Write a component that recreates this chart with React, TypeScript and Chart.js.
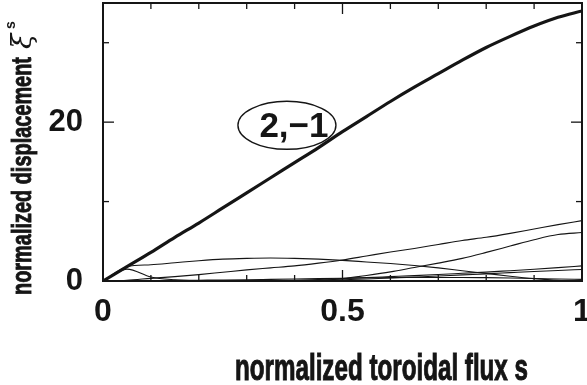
import React, { useEffect, useRef } from "react";
import { Chart, registerables } from "chart.js";

Chart.register(...registerables);

// normalized toroidal flux s (sample grid)
const S = [0, 0.05, 0.1, 0.15, 0.2, 0.25, 0.3, 0.35, 0.4, 0.45, 0.5, 0.55, 0.6, 0.65, 0.7, 0.75, 0.8, 0.85, 0.9, 0.95, 1.0];

// dominant (2,-1) harmonic (thick curve)
const XI_2_M1 = [0, 1.8, 3.6, 5.5, 7.3, 9.2, 11.1, 13.0, 14.9, 16.8, 18.8, 20.7, 22.6, 24.4, 26.1, 27.8, 29.4, 30.8, 32.1, 33.2, 34.0];

// weaker harmonics (thin curves)
const XI_A = [0, 1.8, 2.05, 2.3, 2.55, 2.75, 2.85, 2.9, 2.85, 2.75, 2.6, 2.4, 2.2, 1.95, 1.65, 1.3, 0.95, 0.6, 0.3, 0.08, 0];
const XI_B = [0, 0.1, 0.33, 0.55, 0.8, 1.1, 1.4, 1.65, 1.9, 2.25, 2.65, 3.15, 3.65, 4.1, 4.6, 5.1, 5.5, 6.0, 6.55, 7.1, 7.6];
const XI_C = [0, 0, 0, 0, 0, 0, 0, 0, 0, 0.05, 0.3, 0.7, 1.15, 1.7, 2.25, 2.85, 3.6, 4.4, 5.2, 5.85, 6.1];
const XI_D = [0, 0, 0, 0, 0, 0, 0, 0.02, 0.08, 0.18, 0.3, 0.42, 0.55, 0.68, 0.82, 0.97, 1.12, 1.3, 1.48, 1.68, 1.9];
const XI_E = [0, 0, 0, 0, 0, 0, 0, 0, 0.02, 0.08, 0.15, 0.25, 0.37, 0.5, 0.63, 0.77, 0.9, 1.05, 1.2, 1.33, 1.45];
const XI_F = [0, 0.02, 0.05, 0.08, 0.1, 0.12, 0.15, 0.2, 0.25, 0.3, 0.35, 0.4, 0.42, 0.45, 0.45, 0.45, 0.42, 0.38, 0.32, 0.25, 0.2];
const XI_G = [0, 1.5, 0.5, 0.15, 0.03, 0, 0, 0, 0, 0, 0, 0, 0, 0, 0, 0, 0, 0, 0, 0, 0];

const THIN_SERIES = [XI_A, XI_B, XI_C, XI_D, XI_E, XI_F, XI_G];

// axes
const X_TICK_VALUES = [0, 0.5, 1];
const X_TICK_LABELS = ["0", "0.5", "1"];
const X_MARKS = [0.1, 0.2, 0.3, 0.4, 0.5, 0.6, 0.7, 0.8, 0.9];
const Y_TICK_VALUES = [0, 20];
const Y_TICK_LABELS = ["0", "20"];
const Y_MARKS = [10, 20, 30];
const X_MAJOR_MARK = 0.5;
const Y_MAJOR_MARK = 20;

const X_TITLE = "normalized toroidal flux s";
const Y_TITLE = "normalized displacement";
const Y_TITLE_SYMBOL = "ξ";
const Y_TITLE_SUP = "s";

const LABEL_TEXT = "2,\u22121";
const LABEL_S = 0.384;
const LABEL_V = 19.6;

const INK = "#151515";

function pts(vals: number[]) {
  return S.map((s, i) => ({ x: s, y: vals[i] }));
}

const decorPlugin = {
  id: "decor",
  afterDatasetsDraw(chart: any) {
    const { ctx, chartArea: a, scales } = chart;
    const xs = scales.x;
    const ys = scales.y;
    ctx.save();
    ctx.strokeStyle = INK;
    ctx.fillStyle = INK;
    ctx.lineWidth = 1.3;
    const seg = (x1: number, y1: number, x2: number, y2: number) => {
      ctx.beginPath();
      ctx.moveTo(x1, y1);
      ctx.lineTo(x2, y2);
      ctx.stroke();
    };
    X_MARKS.forEach((v) => {
      const px = xs.getPixelForValue(v);
      const len = Math.abs(v - X_MAJOR_MARK) < 1e-6 ? 11 : 6;
      seg(px, a.bottom, px, a.bottom - len);
      seg(px, a.top, px, a.top + len);
    });
    Y_MARKS.forEach((v) => {
      const py = ys.getPixelForValue(v);
      const len = v === Y_MAJOR_MARK ? 11 : 6;
      seg(a.left, py, a.left + len, py);
      seg(a.right, py, a.right - len, py);
    });
    ctx.lineWidth = 2;
    ctx.strokeRect(a.left, a.top, a.right - a.left, a.bottom - a.top);

    // label ellipse
    const cx = xs.getPixelForValue(LABEL_S);
    const cy = ys.getPixelForValue(LABEL_V);
    ctx.beginPath();
    ctx.ellipse(cx, cy, 49, 24, 0, 0, Math.PI * 2);
    ctx.fillStyle = "#ffffff";
    ctx.fill();
    ctx.lineWidth = 1.4;
    ctx.stroke();
    ctx.fillStyle = INK;
    ctx.font = 'bold 35px "Liberation Sans", Arial, sans-serif';
    ctx.textAlign = "center";
    ctx.textBaseline = "alphabetic";
    ctx.fillText(LABEL_TEXT, cx + 7, cy + 12);

    // x title
    ctx.font = 'bold 36px "Liberation Sans", Arial, sans-serif';
    const wx = ctx.measureText(X_TITLE).width;
    ctx.save();
    ctx.translate(381.5, 380);
    ctx.scale(293 / wx, 1);
    ctx.textAlign = "center";
    ctx.lineWidth = 1;
    ctx.fillText(X_TITLE, 0, 0);
    ctx.strokeText(X_TITLE, 0, 0);
    ctx.restore();

    // y title
    ctx.save();
    ctx.translate(31, 295);
    ctx.rotate(-Math.PI / 2);
    ctx.font = 'bold 27px "Liberation Sans", Arial, sans-serif';
    const wy = ctx.measureText(Y_TITLE).width;
    ctx.save();
    ctx.scale(238 / wy, 1);
    ctx.textAlign = "left";
    ctx.lineWidth = 0.9;
    ctx.fillText(Y_TITLE, 0, 0);
    ctx.strokeText(Y_TITLE, 0, 0);
    ctx.restore();
    ctx.font = 'italic 28px "DejaVu Serif", "Liberation Serif", serif';
    ctx.textAlign = "left";
    ctx.fillText(Y_TITLE_SYMBOL, 246, 0);
    ctx.font = 'bold 14px "Liberation Sans", Arial, sans-serif';
    ctx.fillText(Y_TITLE_SUP, 266, -16);
    ctx.restore();

    ctx.restore();
  },
};

export default function App() {
  const ref = useRef<HTMLCanvasElement | null>(null);

  useEffect(() => {
    const canvas = ref.current;
    if (!canvas) return;
    const thin = THIN_SERIES.map((vals, i) => ({
      label: "harmonic " + (i + 1),
      data: pts(vals),
      borderColor: INK,
      borderWidth: 1.1,
      pointRadius: 0,
      fill: false,
      cubicInterpolationMode: "monotone" as const,
    }));
    const tickFont = { family: '"Liberation Sans", Arial, sans-serif', size: 32, weight: "bold" as const };
    const chart = new Chart(canvas, {
      type: "line",
      data: {
        datasets: [
          ...thin,
          {
            label: "2,-1",
            data: pts(XI_2_M1),
            borderColor: INK,
            borderWidth: 3.2,
            pointRadius: 0,
            fill: false,
            cubicInterpolationMode: "monotone" as const,
          },
        ],
      },
      options: {
        responsive: false,
        animation: false,
        events: [],
        layout: { padding: { left: 0, top: 3, right: 5, bottom: 0 } },
        plugins: { legend: { display: false }, tooltip: { enabled: false }, title: { display: false } },
        scales: {
          x: {
            type: "linear",
            min: 0,
            max: 1,
            grid: { display: false, drawTicks: false },
            border: { display: false },
            afterBuildTicks: (s: any) => {
              s.ticks = X_TICK_VALUES.map((v) => ({ value: v }));
            },
            afterFit: (s: any) => {
              s.height = 104;
              s.paddingLeft = 0;
              s.paddingRight = 0;
            },
            ticks: {
              autoSkip: false,
              maxRotation: 0,
              padding: 12,
              color: INK,
              font: tickFont,
              callback: (v: any) => {
                const i = X_TICK_VALUES.indexOf(Number(v));
                return i >= 0 ? X_TICK_LABELS[i] : "";
              },
            },
          },
          y: {
            type: "linear",
            min: 0,
            max: 35,
            grid: { display: false, drawTicks: false },
            border: { display: false },
            afterBuildTicks: (s: any) => {
              s.ticks = Y_TICK_VALUES.map((v) => ({ value: v }));
            },
            afterFit: (s: any) => {
              s.width = 103;
              s.paddingTop = 0;
              s.paddingBottom = 0;
            },
            ticks: {
              autoSkip: false,
              padding: 20,
              color: INK,
              font: { ...tickFont, size: 31 },
              callback: (v: any) => {
                const i = Y_TICK_VALUES.indexOf(Number(v));
                return i >= 0 ? Y_TICK_LABELS[i] : "";
              },
            },
          },
        },
      },
      plugins: [decorPlugin],
    });
    return () => chart.destroy();
  }, []);

  return (
    <div style={{ position: "absolute", left: 0, top: 0, width: 587, height: 385, background: "#fff" }}>
      <canvas ref={ref} width={587} height={385} style={{ display: "block" }} />
    </div>
  );
}
